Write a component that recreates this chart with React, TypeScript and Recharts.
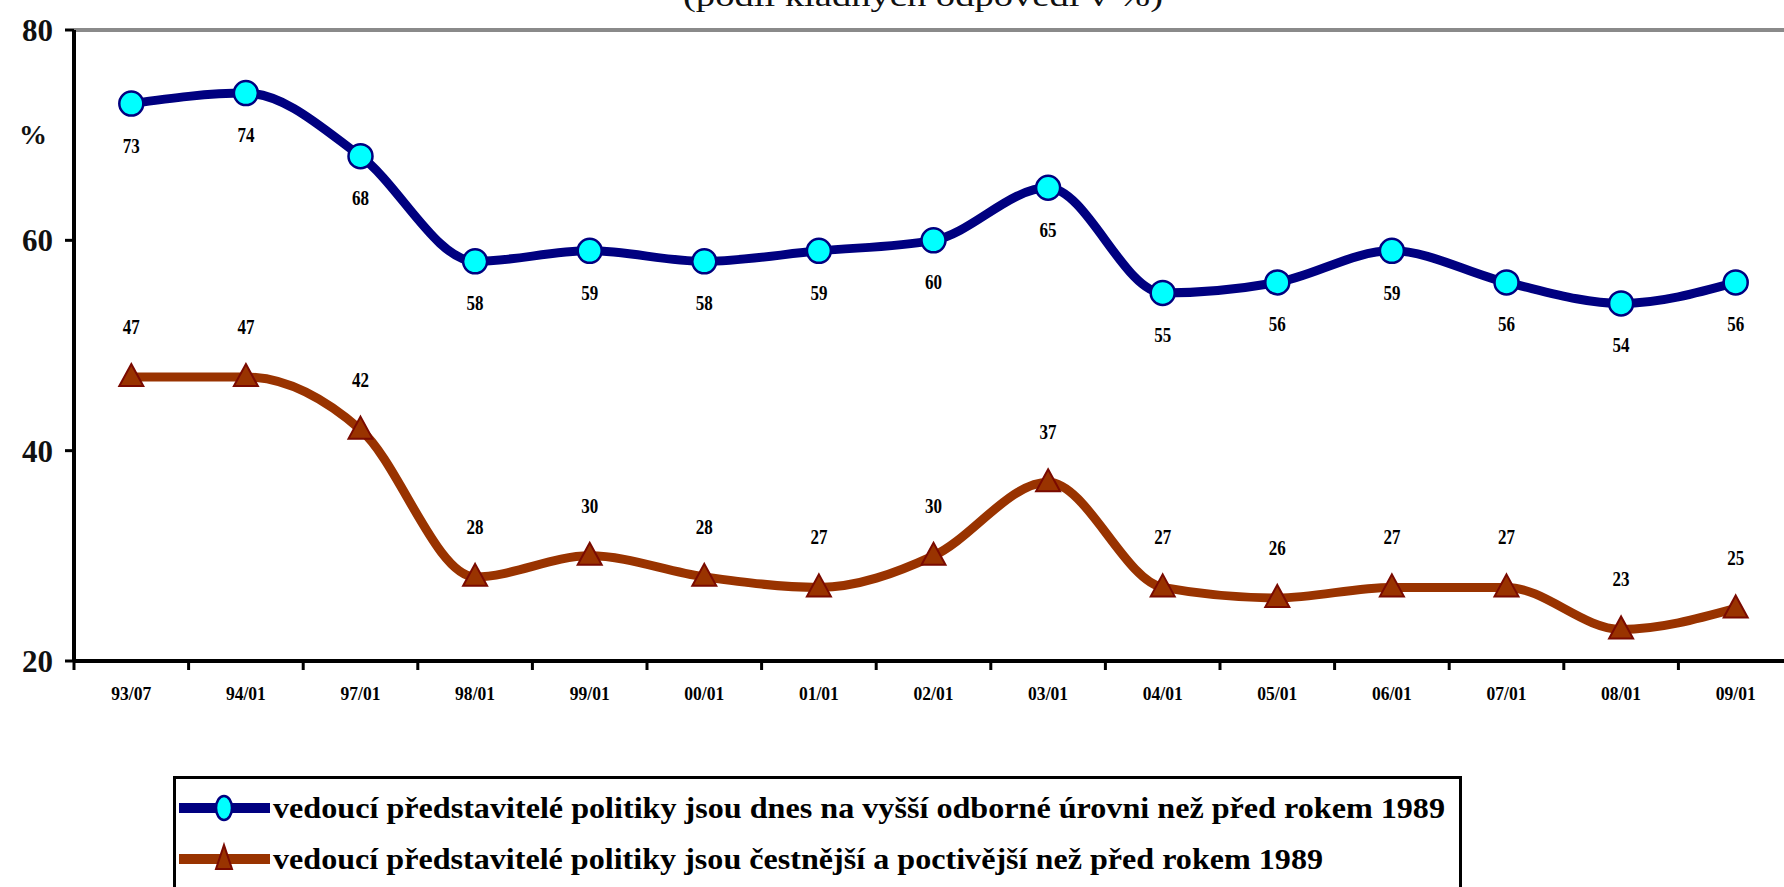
import React from 'react';
import { LineChart, Line, XAxis, YAxis, ReferenceLine, LabelList, Legend } from 'recharts';

const categories = ['93/07', '94/01', '97/01', '98/01', '99/01', '00/01', '01/01', '02/01', '03/01', '04/01', '05/01', '06/01', '07/01', '08/01', '09/01'];
const expertiseValues = [73, 74, 68, 58, 59, 58, 59, 60, 65, 55, 56, 59, 56, 54, 56];
const honestyValues = [47, 47, 42, 28, 30, 28, 27, 30, 37, 27, 26, 27, 27, 23, 25];
const yTicks = [20, 40, 60, 80];
const seriesNames = [
  'vedoucí představitelé politiky jsou dnes na vyšší odborné úrovni než před rokem 1989',
  'vedoucí představitelé politiky jsou čestnější a poctivější než před rokem 1989',
];
const titleText = '(podíl kladných odpovědí v %)';
const unitLabel = '%';

const data = categories.map((c, i) => ({ cat: c, expertise: expertiseValues[i], honesty: honestyValues[i] }));

const NAVY = '#000080';
const CYAN = '#00FFFF';
const BROWN = '#993300';
const TRI_STROKE = '#7A0A00';
const FONT = "'Liberation Serif', 'Times New Roman', serif";

const X_TICK_SIZE = 9;
const X_TICK_MARGIN = 14;

const CircleDot = (p: any) => {
  if (p.cx == null || p.cy == null) return <g key={`cd${p.index}`} />;
  return <circle key={`cd${p.index}`} cx={p.cx} cy={p.cy} r={12} fill={CYAN} stroke={NAVY} strokeWidth={2.5} />;
};

const TriDot = (p: any) => {
  if (p.cx == null || p.cy == null) return <g key={`td${p.index}`} />;
  const { cx, cy } = p;
  return (
    <path
      key={`td${p.index}`}
      d={`M${cx},${cy - 13} L${cx + 12},${cy + 9} L${cx - 12},${cy + 9} Z`}
      fill={BROWN}
      stroke={TRI_STROKE}
      strokeWidth={2}
    />
  );
};

const makeLabel = (dy: number) => (p: any) => {
  const { x, y, value, index } = p;
  if (x == null || y == null) return null;
  const s = String(value);
  return (
    <text
      key={`lbl${dy}-${index}`}
      x={x}
      y={y + dy}
      textAnchor="middle"
      dominantBaseline="central"
      fontFamily={FONT}
      fontWeight="bold"
      fontSize={21}
      fill="#000"
      textLength={8.5 * s.length}
      lengthAdjust="spacingAndGlyphs"
    >
      {s}
    </text>
  );
};

const XTick = (p: any) => {
  const { x, y, payload } = p;
  const axisY = y - X_TICK_SIZE - X_TICK_MARGIN;
  const bx = x - (payload.offset ?? 0);
  return (
    <g>
      <line x1={bx} x2={bx} y1={axisY} y2={axisY + X_TICK_SIZE} stroke="#000" strokeWidth={3} />
      <text
        x={x}
        y={y + 9}
        textAnchor="middle"
        dominantBaseline="central"
        fontFamily={FONT}
        fontWeight="bold"
        fontSize={19}
        fill="#000"
        textLength={40}
        lengthAdjust="spacingAndGlyphs"
      >
        {payload.value}
      </text>
    </g>
  );
};

const LegendBox = () => (
  <div style={{ width: 1289, height: 140, border: '3px solid #000', background: '#fff', boxSizing: 'border-box' }}>
    <svg width={1283} height={134} style={{ display: 'block' }}>
      <line x1={3} x2={94} y1={29} y2={29} stroke={NAVY} strokeWidth={10} />
      <ellipse cx={48} cy={29} rx={8} ry={12} fill={CYAN} stroke={NAVY} strokeWidth={2.5} />
      <text x={97} y={29} dominantBaseline="central" fontFamily={FONT} fontWeight="bold" fontSize={29} fill="#000" textLength={1172} lengthAdjust="spacingAndGlyphs">
        {seriesNames[0]}
      </text>
      <line x1={3} x2={94} y1={80} y2={80} stroke={BROWN} strokeWidth={10} />
      <path d={`M48,${80 - 14} L56,${80 + 10} L40,${80 + 10} Z`} fill={BROWN} stroke={TRI_STROKE} strokeWidth={2} />
      <text x={97} y={80} dominantBaseline="central" fontFamily={FONT} fontWeight="bold" fontSize={29} fill="#000" textLength={1050} lengthAdjust="spacingAndGlyphs">
        {seriesNames[1]}
      </text>
    </svg>
  </div>
);

export default function App() {
  return (
    <div style={{ position: 'absolute', left: 0, top: 0, width: 1784, height: 887, overflow: 'hidden', background: '#fff' }}>
      <LineChart width={1820} height={887} data={data} margin={{ top: 30, right: 27, bottom: 186, left: 0 }}>
        <ReferenceLine y={80} stroke="#8a8a8a" strokeWidth={4} />
        <XAxis
          dataKey="cat"
          scale="band"
          interval={0}
          height={40}
          tickLine={false}
          tickSize={X_TICK_SIZE}
          tickMargin={X_TICK_MARGIN}
          axisLine={{ stroke: '#000', strokeWidth: 4 }}
          tick={(p: any) => <XTick {...p} />}
        />
        <YAxis
          width={74}
          domain={[20, 80]}
          ticks={yTicks}
          interval={0}
          allowDataOverflow
          tickSize={9}
          tickMargin={12}
          axisLine={{ stroke: '#000', strokeWidth: 4 }}
          tickLine={{ stroke: '#000', strokeWidth: 3 }}
          tick={{ fontFamily: FONT, fontWeight: 'bold', fontSize: 31, fill: '#111' }}
        />
        <Line
          type="monotone"
          dataKey="expertise"
          name={seriesNames[0]}
          stroke={NAVY}
          strokeWidth={9}
          dot={CircleDot}
          activeDot={false}
          isAnimationActive={false}
        >
          <LabelList dataKey="expertise" content={makeLabel(42)} />
        </Line>
        <Line
          type="monotone"
          dataKey="honesty"
          name={seriesNames[1]}
          stroke={BROWN}
          strokeWidth={9}
          dot={TriDot}
          activeDot={false}
          isAnimationActive={false}
        >
          <LabelList dataKey="honesty" content={makeLabel(-50)} />
        </Line>
        <Legend
          layout="vertical"
          align="center"
          verticalAlign="middle"
          content={() => <LegendBox />}
          wrapperStyle={{ left: 173, top: 776, width: 1289, height: 140 }}
        />
      </LineChart>
      <svg width={1784} height={887} style={{ position: 'absolute', left: 0, top: 0, pointerEvents: 'none' }}>
        <text x={923} y={6} textAnchor="middle" fontFamily={FONT} fontSize={30} fill="#111" textLength={480} lengthAdjust="spacingAndGlyphs">
          {titleText}
        </text>
        <text x={33} y={134} textAnchor="middle" dominantBaseline="central" fontFamily={FONT} fontWeight="bold" fontSize={28} fill="#111">
          {unitLabel}
        </text>
      </svg>
    </div>
  );
}
